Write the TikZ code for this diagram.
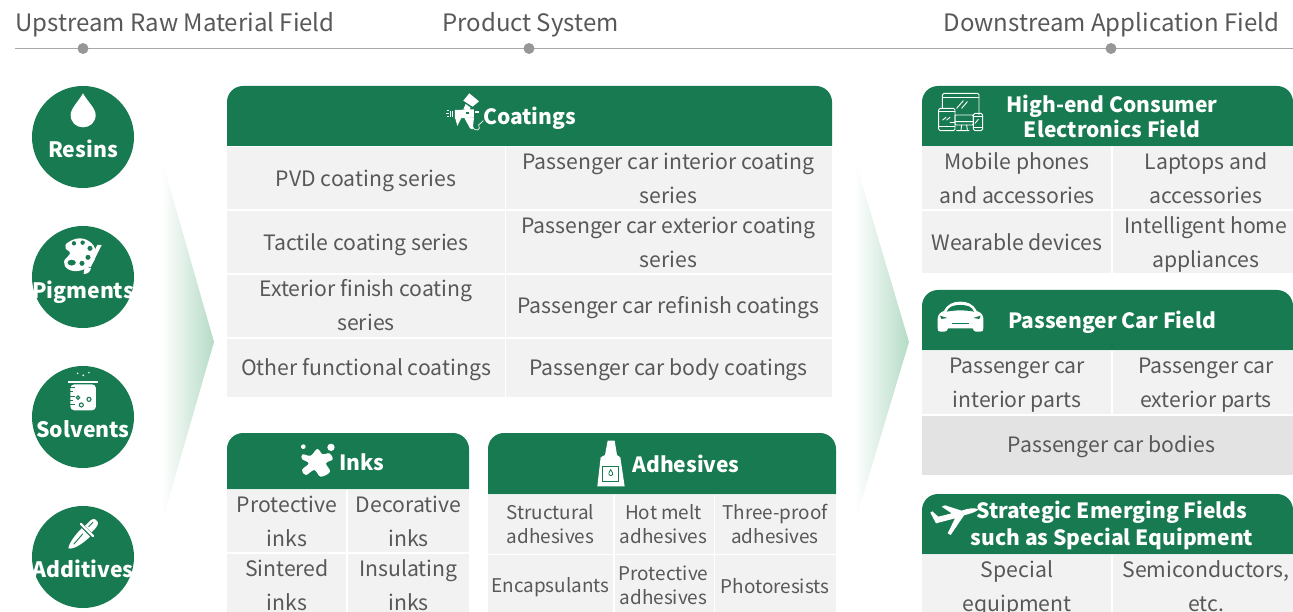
\documentclass[tikz,border=0pt]{standalone}
\usepackage{fontspec}
\setmainfont{Noto Sans CJK SC}
\definecolor{gr}{HTML}{177A50}
\definecolor{cellg}{HTML}{F2F2F2}
\definecolor{celld}{HTML}{E3E3E3}
\definecolor{txt}{HTML}{595757}
\definecolor{rule}{HTML}{A8A8A8}
\definecolor{wedge}{HTML}{B5DBC6}
\newcommand{\hdrbar}[4]{\fill[gr] (#1,#4) [rounded corners=16pt] -- (#1,#2) -- (#3,#2) [sharp corners] -- (#3,#4) -- cycle;}
\tikzset{
  bg/.style={fill=cellg,inner sep=0pt},
  cell/.style={text=txt,inner sep=0pt,align=center,font=\fontsize{21.2}{34}\selectfont},
  small/.style={cell,font=\fontsize{18.9}{24}\selectfont},
  toplabel/.style={text=txt,inner sep=0pt,font=\fontsize{24}{30}\selectfont},
  head/.style={text=white,inner sep=0pt,align=center,font=\fontsize{21}{25}\selectfont\bfseries},
  disc/.style={circle,fill=gr,minimum size=102pt,inner sep=0pt},
  disclabel/.style={text=white,inner sep=0pt,font=\fontsize{21.2}{25}\selectfont\bfseries},
  tick/.style={circle,fill=rule!90!black,minimum size=11pt,inner sep=0pt},
  icon/.style={x=0.3333pt,y=-0.3333pt},
  wline/.style={draw=white,line width=0.9pt,line join=round,line cap=round},
}
\begin{document}
\begin{tikzpicture}[x=1pt,y=-1pt]
\useasboundingbox (0,0) rectangle (1293,612);
\clip (0,0) rectangle (1293,612);
% top labels
\node[toplabel] (l1) at (175,24.5) {Upstream Raw Material Field};
\node[toplabel] (l2) at (530.5,24.5) {Product System};
\node[toplabel] (l3) at (1111.5,24.5) {Downstream Application Field};
\coordinate (rs) at (15,48.5); \coordinate (re) at (1293,48.5);
\draw[rule,line width=1pt] (rs) -- (re);
\node[tick] (t1) at (83,48.5) {};
\node[tick] (t2) at (529,48.5) {};
\node[tick] (t3) at (1111,48.5) {};
% wedges
\path[left color=white,right color=wedge] (162,160) -- (214,342) -- (162,522) -- cycle;
\path[left color=white,right color=wedge] (855,160) -- (909,342) -- (855,522) -- cycle;
% discs
\node[disc] (d1) at (83,137) {};
\node[disc] (d2) at (83,277) {};
\node[disc] (d3) at (83,417) {};
\node[disc] (d4) at (83,557) {};
\node[disclabel] (n1) at (83,149) {Resins};
\node[disclabel] (n2) at (83,292) {Pigments};
\node[disclabel] (n3) at (83,429) {Solvents};
\node[disclabel] (n4) at (83,569) {Additives};
% drop
\begin{scope}[shift={(0,60)},icon]
\fill[white] (249,100) .. controls (235,125) and (212,145) .. (212,165) .. controls (212,187) and (228,202) .. (249,202) .. controls (270,202) and (287,187) .. (287,165) .. controls (287,145) and (263,125) .. (249,100) -- cycle;
% palette
\fill[white,even odd rule] plot[smooth cycle,tension=.7] coordinates {(203,548) (240,535) (275,550) (287,580) (275,612) (240,632) (205,628) (192,605) (210,580) (197,565)}
 (222,550) circle (7) (248,548) circle (7) (270,565) circle (8) (264,592) circle (8) (246,610) circle (8) (215,608) ellipse (13 and 9);
\fill[white] (305,555) -- (292,555) -- (262,617) -- (272,622) -- cycle;
\fill[white] (260,620) -- (273,625) .. controls (270,637) and (262,642) .. (251,642) .. controls (250,632) and (253,625) .. (260,620) -- cycle;
\end{scope}
% beaker
\begin{scope}[shift={(0,340)},icon]
\fill[white] (233,100) circle (2.5) (250,106) circle (3) (267,98) circle (2.5);
\fill[white] (205,123) rectangle (293,130);
\fill[white,rounded corners=4pt] (211,133) rectangle (288,211);
\draw[gr,line width=0.7pt] (211,142) -- (226,142) (211,155) -- (220,155) (211,168) -- (226,168) (211,181) -- (220,181) (211,194) -- (226,194);
\draw[gr,line width=1.1pt] (234,173) circle (5) (267,178) circle (6) (244,195) circle (6);
% dropper
\fill[white] (205,625) .. controls (207,610) and (225,585) .. (245,565) -- (270,590) .. controls (250,610) and (220,630) .. (205,625) -- cycle;
\draw[white,line width=2.2pt,line cap=round] (243,552) -- (279,588);
\fill[white] (255,558) -- (272,541) .. controls (280,534) and (290,537) .. (293,545) .. controls (296,553) and (292,560) .. (275,577) -- cycle;
\draw[gr,line width=0.9pt,line cap=round] (266,560) -- (279,547);
\draw[gr,line width=0.9pt,line cap=round] (222,612) -- (248,582);
\end{scope}
% coatings
\hdrbar{227}{86}{832}{146}
\node[head] (hc) at (529.5,118) {Coatings};
\node[bg,minimum width=278pt,minimum height=62pt] (b11) at (366,178) {};
\node[bg,minimum width=326pt,minimum height=62pt] (b12) at (669,178) {};
\node[bg,minimum width=278pt,minimum height=62pt] (b21) at (366,242) {};
\node[bg,minimum width=326pt,minimum height=62pt] (b22) at (669,242) {};
\node[bg,minimum width=278pt,minimum height=62pt] (b31) at (366,306) {};
\node[bg,minimum width=326pt,minimum height=62pt] (b32) at (669,306) {};
\node[bg,minimum width=278pt,minimum height=58pt] (b41) at (366,368) {};
\node[bg,minimum width=326pt,minimum height=58pt] (b42) at (669,368) {};
\node[cell] (c11) at (366,181) {PVD coating series};
\node[cell] (c12) at (668.5,178.5) {Passenger car interior coating\\series};
\node[cell] (c21) at (366,245) {Tactile coating series};
\node[cell] (c22) at (668.5,242.5) {Passenger car exterior coating\\series};
\node[cell] (c31) at (366,305.5) {Exterior finish coating\\series};
\node[cell] (c32) at (668.5,308) {Passenger car refinish coatings};
\node[cell] (c41) at (366,370) {Other functional coatings};
\node[cell] (c42) at (668.5,370) {Passenger car body coatings};
\begin{scope}[shift={(400,80)},icon]
\fill[white] (190,62) -- (208,40) -- (237,64) -- (218,80) -- cycle;
\fill[white] (197,72) -- (212,83) -- (207,92) -- (190,88) -- cycle;
\fill[white] (165,90) -- (222,88) -- (222,112) -- (165,116) -- cycle;
\fill[gr] (198,95) rectangle (208,103);
\fill[white] (225,92) rectangle (238,98);
\fill[white] (165,112) -- (185,112) -- (172,138) -- cycle;
\fill[white] (192,112) -- (222,112) -- (218,148) -- (210,145) -- cycle;
\draw[white,line width=0.7pt] (218,140) .. controls (225,158) and (245,150) .. (236,135) -- (250,122);
\draw[white,line width=0.8pt] (140,90) -- (146,90) (138,100) -- (146,100) (140,110) -- (146,110) (150,92) -- (150,112) (156,94) -- (156,110);
\end{scope}
% inks
\hdrbar{227}{433}{469}{489}
\node[head] (hi) at (362,462.5) {Inks};
\node[bg,minimum width=119pt,minimum height=62pt] (bi11) at (286.5,521) {};
\node[bg,minimum width=121pt,minimum height=62pt] (bi12) at (408.5,521) {};
\node[bg,minimum width=119pt,minimum height=62pt] (bi21) at (286.5,585) {};
\node[bg,minimum width=121pt,minimum height=62pt] (bi22) at (408.5,585) {};
\node[cell] (i11) at (287,521.5) {Protective\\inks};
\node[cell] (i12) at (408.5,521.5) {Decorative\\inks};
\node[cell] (i21) at (287,585.5) {Sintered\\inks};
\node[cell] (i22) at (408.5,585.5) {Insulating\\inks};
\begin{scope}[shift={(220,425)},icon]
\fill[white] (250,65) circle (7) (333,67) circle (11);
\fill[white] plot[smooth cycle,tension=.6] coordinates {(248,88) (272,92) (292,72) (308,88) (328,85) (338,103) (318,115) (330,140) (302,155) (283,135) (258,150) (246,135) (266,115) (246,102)};
\end{scope}
% adhesives
\hdrbar{488}{433}{836}{494}
\node[head] (ha) at (686,464) {Adhesives};
\node[bg,minimum width=125pt,minimum height=59pt] (ba11) at (550.5,524.5) {};
\node[bg,minimum width=99pt,minimum height=59pt] (ba12) at (664,524.5) {};
\node[bg,minimum width=121pt,minimum height=59pt] (ba13) at (775.5,524.5) {};
\node[bg,minimum width=125pt,minimum height=60pt] (ba21) at (550.5,585) {};
\node[bg,minimum width=99pt,minimum height=60pt] (ba22) at (664,585) {};
\node[bg,minimum width=121pt,minimum height=60pt] (ba23) at (775.5,585) {};
\node[small] (a11) at (550.5,524) {Structural\\adhesives};
\node[small] (a12) at (663.5,524) {Hot melt\\adhesives};
\node[small] (a13) at (775,524) {Three-proof\\adhesives};
\node[small] (a21) at (550.5,587) {Encapsulants};
\node[small] (a22) at (663.5,585) {Protective\\adhesives};
\node[small] (a23) at (775,586) {Photoresists};
\begin{scope}[shift={(480,425)},icon]
\fill[white] (383,47) -- (404,47) -- (411,90) -- (421,97) -- (434,184) -- (352,184) -- (362,97) -- (375,90) -- cycle;
\draw[gr,line width=0.9pt] (368,124) rectangle (416,168);
\draw[gr,line width=0.8pt] (392,134) .. controls (387,142) and (385,146) .. (387,149) .. controls (390,153) and (395,153) .. (398,149) .. controls (400,146) and (397,142) .. (392,134) -- cycle;
\end{scope}
% electronics
\hdrbar{922}{86}{1293}{146}
\node[head] (he) at (1112,116) {High-end Consumer\\Electronics Field};
\node[bg,minimum width=189pt,minimum height=63pt] (be11) at (1016.5,177.5) {};
\node[bg,minimum width=188pt,minimum height=63pt] (be12) at (1206.5,177.5) {};
\node[bg,minimum width=189pt,minimum height=62pt] (be21) at (1016.5,242) {};
\node[bg,minimum width=188pt,minimum height=62pt] (be22) at (1206.5,242) {};
\node[cell] (e11) at (1017,178.5) {Mobile phones\\and accessories};
\node[cell] (e12) at (1206,178.5) {Laptops and\\accessories};
\node[cell] (e21) at (1017,242.5) {Wearable devices};
\node[cell] (e22) at (1206,244) {Intelligent home\\appliances};
\begin{scope}[shift={(900,80)},icon]
\draw[wline,rounded corners=1.5pt] (127,85) -- (127,40) -- (237,40) -- (237,105);
\draw[wline] (127,52) -- (237,52) (150,128) -- (165,128);
\draw[wline,rounded corners=1.5pt] (116,85) rectangle (165,152);
\draw[wline] (116,95) -- (165,95) (116,140) -- (165,140);
\draw[wline,rounded corners=1pt] (165,105) rectangle (220,135);
\draw[wline] (165,125) -- (220,125) (185,135) -- (183,150) (200,135) -- (202,150) (170,152) -- (207,152);
\draw[wline,rounded corners=1.5pt] (220,100) rectangle (248,152);
\draw[wline] (220,110) -- (248,110) (220,142) -- (248,142);
\draw[wline] (170,85) -- (190,62) (185,85) -- (202,65) (128,120) -- (138,112) (140,120) -- (150,112) (225,130) -- (235,118);
\end{scope}
% passenger
\hdrbar{922}{290}{1293}{350}
\node[head] (hp) at (1112,322) {Passenger Car Field};
\node[bg,minimum width=189pt,minimum height=63pt] (bp11) at (1016.5,382) {};
\node[bg,minimum width=188pt,minimum height=63pt] (bp12) at (1206.5,382) {};
\node[bg,fill=celld,minimum width=371pt,minimum height=59pt] (bp2) at (1107.5,445) {};
\node[cell] (p11) at (1017,385.5) {Passenger car\\interior parts};
\node[cell] (p12) at (1206,385.5) {Passenger car\\exterior parts};
\node[cell] (p2t) at (1111.5,447) {Passenger car bodies};
\begin{scope}[shift={(900,80)},icon]
\fill[white] (113,745) -- (113,715) .. controls (115,702) and (120,698) .. (132,693) .. controls (142,672) and (160,665) .. (181,665) .. controls (202,665) and (220,672) .. (230,693) .. controls (243,698) and (248,702) .. (250,715) -- (250,745) .. controls (250,753) and (248,755) .. (240,755) -- (228,755) .. controls (222,755) and (220,750) .. (218,745) -- (144,745) .. controls (142,750) and (140,755) .. (134,755) -- (122,755) .. controls (115,755) and (113,753) .. (113,745) -- cycle;
\fill[gr] (140,695) .. controls (146,680) and (160,675) .. (181,675) .. controls (202,675) and (216,680) .. (222,695) .. controls (195,690) and (167,690) .. (140,695) -- cycle;
\fill[gr] (120,707) -- (142,714) -- (124,717) -- cycle (242,707) -- (220,714) -- (238,717) -- cycle;
\draw[gr,line width=0.8pt] (155,731) -- (207,731);
\end{scope}
% strategic
\hdrbar{922}{494}{1293}{554}
\node[head,font=\fontsize{21}{27}\selectfont\bfseries] (hs) at (1112,525.5) {Strategic Emerging Fields\\such as Special Equipment};
\node[bg,minimum width=189pt,minimum height=62pt] (bs11) at (1016.5,586) {};
\node[bg,minimum width=188pt,minimum height=62pt] (bs12) at (1206.5,586) {};
\node[cell] (s11) at (1017,588) {Special\\equipment};
\node[cell] (s12) at (1206,586.5) {Semiconductors,\\etc.};
\begin{scope}[shift={(900,480)},icon]
\fill[white] (235,88) .. controls (225,83) and (205,84) .. (185,92) -- (135,76) -- (125,80) -- (155,100) -- (115,110) -- (97,94) -- (91,98) -- (108,130) -- (165,115) -- (143,160) -- (152,165) -- (192,106) .. controls (215,100) and (230,95) .. (235,88) -- cycle;
\end{scope}
\end{tikzpicture}
\end{document}
